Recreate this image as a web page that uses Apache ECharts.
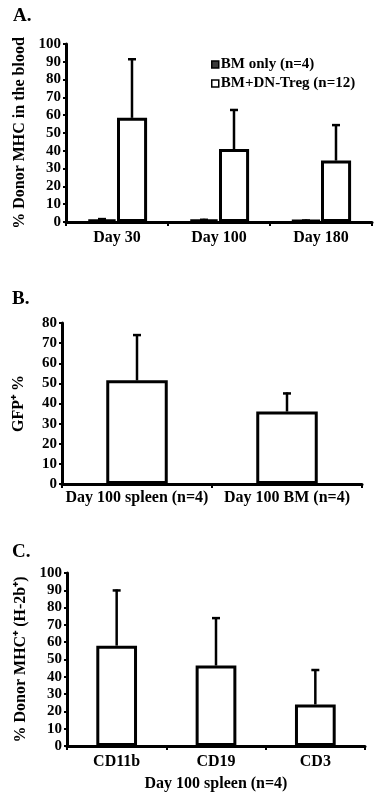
<!DOCTYPE html>
<html>
<head>
<meta charset="utf-8">
<script src="https://cdn.jsdelivr.net/npm/echarts@6/dist/echarts.min.js"></script>
<style>html,body{margin:0;padding:0;background:#fff;}#c{width:378px;height:793px;}</style>
</head>
<body>
<div id="c"></div>
<script>
// ---- Data ----
const catsA = ['Day 30', 'Day 100', 'Day 180'];
const bmOnly = [1.5, 1.5, 1];
const bmOnlyErr = [2.2, 1.8, 1.4];
const bmDnTreg = [58.5, 41, 34.5];
const bmDnTregErr = [92, 63.5, 55];
const legendNames = ['BM only (n=4)', 'BM+DN-Treg (n=12)'];

const catsB = ['Day 100 spleen (n=4)', 'Day 100 BM (n=4)'];
const gfp = [51.5, 36];
const gfpErr = [74.5, 45.5];

const catsC = ['CD11b', 'CD19', 'CD3'];
const donorC = [58, 46.5, 24];
const donorCErr = [90.5, 74.5, 44.5];

const panelLabels = ['A.', 'B.', 'C.'];
const yNames = ['% Donor MHC in the blood', 'GFP\u207A %', '% Donor MHC\u207A (H-2b\u207A)'];
const xNameC = 'Day 100 spleen (n=4)';

// ---- Styles ----
const FONT = "'Liberation Serif', 'Times New Roman', serif";
const txt = (size) => ({ fontFamily: FONT, fontWeight: 'bold', fontSize: size, color: '#000' });

function errRender(offsetFrac) {
  return function (params, api) {
    const x = api.value(0);
    const top = api.coord([x, api.value(2)]);
    const base = api.coord([x, api.value(1)]);
    const band = api.size([1, 0])[0];
    const cx = top[0] + offsetFrac * band;
    return {
      type: 'group',
      children: [
        { type: 'line', shape: { x1: cx, y1: base[1], x2: cx, y2: top[1] }, style: { stroke: '#000', lineWidth: 2.5 } },
        { type: 'line', shape: { x1: cx - 4, y1: top[1] + 1, x2: cx + 4, y2: top[1] + 1 }, style: { stroke: '#000', lineWidth: 2.5 } }
      ]
    };
  };
}

function xAxisCfg(grid, data, margin) {
  return {
    type: 'category', gridIndex: grid, data: data,
    axisLine: { lineStyle: { color: '#000', width: 3 } },
    axisTick: { show: true, length: 4, lineStyle: { color: '#000', width: 2 } },
    axisLabel: Object.assign(txt(16), { margin: margin, interval: 0 })
  };
}
function yAxisCfg(grid, max, name, gap, nameSize) {
  return {
    type: 'value', gridIndex: grid, min: 0, max: max, interval: 10,
    name: name, nameLocation: 'middle', nameRotate: 90, nameGap: gap,
    nameTextStyle: txt(nameSize),
    splitLine: { show: false },
    axisLine: { show: true, lineStyle: { color: '#000', width: 3 } },
    axisTick: { show: true, length: 3, lineStyle: { color: '#000', width: 2 } },
    axisLabel: Object.assign(txt(15), { margin: 5 })
  };
}

const barStyleWhite = { color: '#fff', borderColor: '#000', borderWidth: 3 };
const barStyleDark = { color: '#3a3a3a', borderColor: '#000', borderWidth: 3 };

const option = {
  animation: false,
  backgroundColor: '#fff',
  title: [
    { text: panelLabels[0], left: 8, top: 2, textStyle: txt(19) },
    { text: panelLabels[1], left: 7, top: 285, textStyle: txt(19) },
    { text: panelLabels[2], left: 7, top: 538, textStyle: txt(19) }
  ],
  legend: {
    orient: 'vertical', left: 206, top: 52, itemWidth: 7, itemHeight: 7, itemGap: 4,
    icon: 'rect',
    data: legendNames, textStyle: Object.assign(txt(15), { padding: [0, 0, 0, -3] }),
    itemStyle: { borderWidth: 1.5, borderColor: '#000' }
  },
  grid: [
    { left: 66, right: 6, top: 44, bottom: 571 },
    { left: 62, right: 16, top: 323, bottom: 309 },
    { left: 67, right: 13, top: 573, bottom: 47 }
  ],
  xAxis: [
    xAxisCfg(0, catsA, 8),
    xAxisCfg(1, catsB, 6),
    Object.assign(xAxisCfg(2, catsC, 8), { name: xNameC, nameLocation: 'middle', nameGap: 30, nameTextStyle: txt(16) })
  ],
  yAxis: [
    yAxisCfg(0, 100, yNames[0], 34, 16),
    yAxisCfg(1, 80, yNames[1], 35, 16),
    yAxisCfg(2, 100, yNames[2], 35, 16)
  ],
  series: [
    { name: legendNames[0], type: 'bar', xAxisIndex: 0, yAxisIndex: 0, data: bmOnly, barGap: '0%', barCategoryGap: '41%', itemStyle: barStyleDark },
    { name: legendNames[1], type: 'bar', xAxisIndex: 0, yAxisIndex: 0, data: bmDnTreg, barGap: '0%', barCategoryGap: '41%', itemStyle: barStyleWhite },
    { type: 'custom', xAxisIndex: 0, yAxisIndex: 0, z: 5, renderItem: errRender(-0.147), encode: { x: 0, y: 2 }, data: bmOnly.map((v, i) => [i, v, bmOnlyErr[i]]) },
    { type: 'custom', xAxisIndex: 0, yAxisIndex: 0, z: 5, renderItem: errRender(0.147), encode: { x: 0, y: 2 }, data: bmDnTreg.map((v, i) => [i, v, bmDnTregErr[i]]) },

    { type: 'bar', xAxisIndex: 1, yAxisIndex: 1, data: gfp, barCategoryGap: '59%', itemStyle: barStyleWhite },
    { type: 'custom', xAxisIndex: 1, yAxisIndex: 1, z: 5, renderItem: errRender(0), encode: { x: 0, y: 2 }, data: gfp.map((v, i) => [i, v, gfpErr[i]]) },

    { type: 'bar', xAxisIndex: 2, yAxisIndex: 2, data: donorC, barCategoryGap: '59%', itemStyle: barStyleWhite },
    { type: 'custom', xAxisIndex: 2, yAxisIndex: 2, z: 5, renderItem: errRender(0), encode: { x: 0, y: 2 }, data: donorC.map((v, i) => [i, v, donorCErr[i]]) }
  ]
};

const chart = echarts.init(document.getElementById('c'), null, { renderer: 'canvas' });
chart.setOption(option);
</script>
</body>
</html>
